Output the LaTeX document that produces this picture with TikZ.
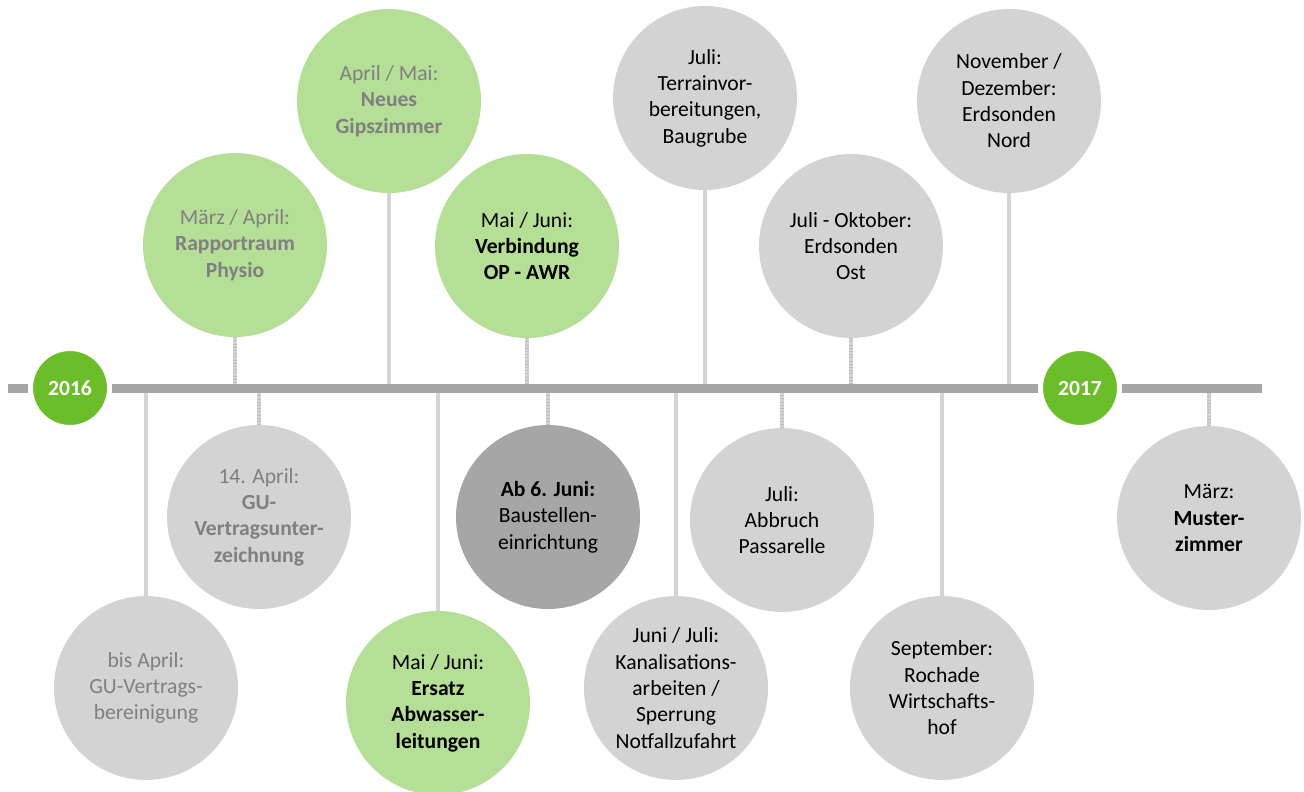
\documentclass[tikz,border=0pt]{standalone}
\usepackage{fontspec}
\setmainfont{Carlito}
\usepackage{tikz}
\definecolor{evgreen}{RGB}{181,222,151}
\definecolor{evgray}{RGB}{211,211,211}
\definecolor{evdark}{RGB}{166,166,166}
\definecolor{yeargreen}{RGB}{107,190,42}
\definecolor{bargray}{RGB}{166,166,166}
\definecolor{linkgray}{RGB}{212,212,212}
\definecolor{tickgray}{RGB}{190,190,190}
\definecolor{pasttext}{RGB}{128,128,128}
\newcommand{\evfont}{\fontsize{21.6}{26.3}\selectfont}
\tikzset{
	event/.style={circle, minimum size=184pt, inner sep=0pt, align=center, font=\evfont},
	greenev/.style={event, fill=evgreen},
	grayev/.style={event, fill=evgray},
	darkev/.style={event, fill=evdark},
	year/.style={circle, minimum size=79pt, inner sep=0pt, fill=yeargreen, draw=white, line width=5pt, text=white, font=\evfont\bfseries},
	longlink/.style={draw=linkgray, line width=4pt},
	shortlink/.style={draw=linkgray, line width=4pt, postaction={draw=tickgray, line width=4pt, dash pattern=on 0.6pt off 2.6pt}}
}

\begin{document}
\begin{tikzpicture}[x=1pt, y=-1pt]
	\useasboundingbox (0,0) rectangle (1304,792);
	% oben
	\node[greenev, text=pasttext] (rapport) at (235,245) {März / April:\\\textbf{Rapportraum}\\\textbf{Physio}};
	\node[greenev, text=pasttext] (gips) at (389,101) {April / Mai:\\\textbf{Neues}\\\textbf{Gipszimmer}};
	\node[greenev] (verbindung) at (527,246) {Mai / Juni:\\\textbf{Verbindung}\\\textbf{OP - AWR}};
	\node[grayev] (terrain) at (705,98) {Juli:\\Terrainvor-\\bereitungen,\\Baugrube};
	\node[grayev] (ost) at (851,246) {Juli - Oktober:\\Erdsonden\\Ost};
	\node[grayev] (nord) at (1009,101) {November /\\Dezember:\\Erdsonden\\Nord};
	% unten
	\node[grayev, text=pasttext] (bisapril) at (146,688) {bis April:\\GU-Vertrags-\\bereinigung};
	\node[grayev, text=pasttext] (guvertrag) at (259,517) {14. April:\\\textbf{GU-}\\\textbf{Vertragsunter-}\\\textbf{zeichnung}};
	\node[greenev] (ersatz) at (438,703) {Mai / Juni:\\\textbf{Ersatz}\\\textbf{Abwasser-}\\\textbf{leitungen}};
	\node[darkev] (baustelle) at (548,517) {\textbf{Ab 6. Juni:}\\Baustellen-\\einrichtung};
	\node[grayev] (kanal) at (676,688) {Juni / Juli:\\Kanalisations-\\arbeiten /\\Sperrung\\Notfallzufahrt};
	\node[grayev] (passarelle) at (782,520) {Juli:\\Abbruch\\Passarelle};
	\node[grayev] (rochade) at (942,688) {September:\\Rochade\\Wirtschafts-\\hof};
	\node[grayev] (muster) at (1209,518) {März:\\\textbf{Muster-}\\\textbf{zimmer}};
	% Zeitachse
	\coordinate (barL) at (8,388);
	\coordinate (barR) at (1262,388);
	\draw[shortlink] (rapport.south) -- (rapport.south |- barL);
	\draw[longlink] (gips.south) -- (gips.south |- barL);
	\draw[shortlink] (verbindung.south) -- (verbindung.south |- barL);
	\draw[longlink] (terrain.south) -- (terrain.south |- barL);
	\draw[shortlink] (ost.south) -- (ost.south |- barL);
	\draw[longlink] (nord.south) -- (nord.south |- barL);
	\draw[longlink] (bisapril.north) -- (bisapril.north |- barL);
	\draw[shortlink] (guvertrag.north) -- (guvertrag.north |- barL);
	\draw[longlink] (ersatz.north) -- (ersatz.north |- barL);
	\draw[shortlink] (baustelle.north) -- (baustelle.north |- barL);
	\draw[longlink] (kanal.north) -- (kanal.north |- barL);
	\draw[shortlink] (passarelle.north) -- (passarelle.north |- barL);
	\draw[longlink] (rochade.north) -- (rochade.north |- barL);
	\draw[shortlink] (muster.north) -- (muster.north |- barL);
	\draw[bargray, line width=9pt] (barL) -- (barR);
	\node[year] (y16) at (70,388) {2016};
	\node[year] (y17) at (1080,388) {2017};
\end{tikzpicture}
\end{document}
